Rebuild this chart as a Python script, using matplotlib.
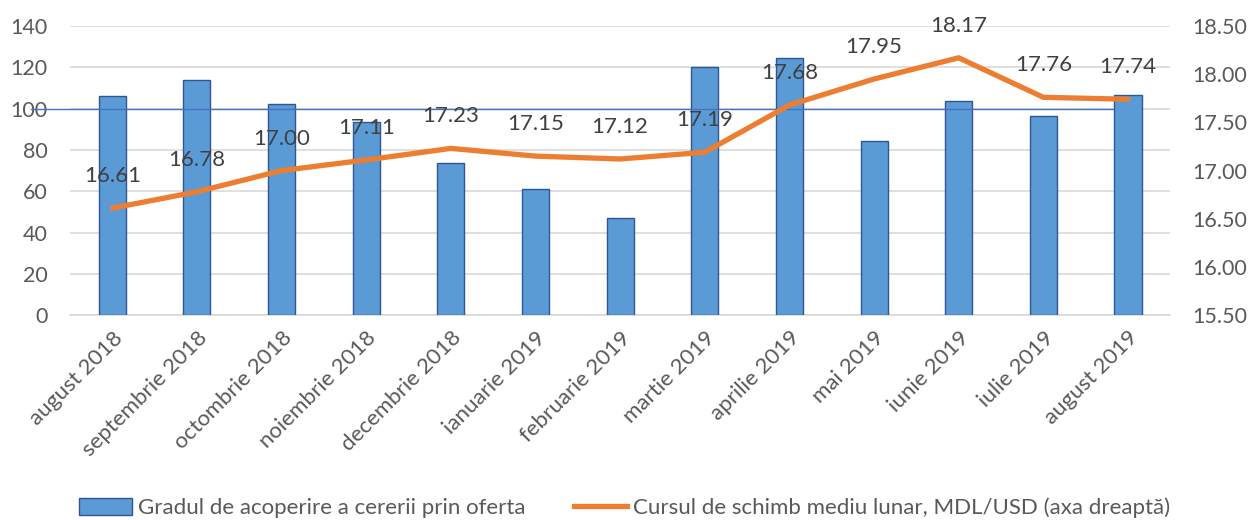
import numpy as np
import matplotlib.pyplot as plt
from matplotlib.patches import Patch
from matplotlib.lines import Line2D

plt.rcParams['font.family'] = ['Lato', 'DejaVu Sans']

months = ['august 2018', 'septembrie 2018', 'octombrie 2018', 'noiembrie 2018',
          'decembrie 2018', 'ianuarie 2019', 'februarie 2019', 'martie 2019',
          'aprilie 2019', 'mai 2019', 'iunie 2019', 'iulie 2019', 'august 2019']
coverage = [106, 114, 102, 93.5, 73.6, 61, 47, 120, 124.5, 84.4, 103.8, 96.3, 106.6]
rate = [16.61, 16.78, 17.00, 17.11, 17.23, 17.15, 17.12, 17.19, 17.68, 17.95, 18.17, 17.76, 17.74]

bar_name = 'Gradul de acoperire a cererii prin oferta'
line_name = 'Cursul de schimb mediu lunar, MDL/USD (axa dreaptă)'

blue = '#5B9BD5'
edge = '#2F5597'
orange = '#ED7D31'
grey_txt = '#595959'

fig = plt.figure(figsize=(12.49, 5.2), dpi=100)
ax = fig.add_axes([0.056, 0.394, 0.881, 0.556])
x = np.arange(len(months))

ax.bar(x, coverage, width=0.32, color=blue, edgecolor=edge, linewidth=1, zorder=3)
ax.set_xlim(-0.5, len(months) - 0.5)
ax.set_ylim(0, 140)
ax.set_yticks(np.arange(0, 141, 20))
ax.yaxis.grid(True, color='#D9D9D9', linewidth=1.2, zorder=0)
ax.set_axisbelow(True)
ax.axhline(100, xmin=-0.035, xmax=0.948, color='#4472C4', linewidth=1, clip_on=False, zorder=4)
for s in ['top', 'right', 'left']:
    ax.spines[s].set_visible(False)
ax.spines['bottom'].set_color('#D9D9D9')
ax.spines['bottom'].set_linewidth(1.2)
ax.tick_params(axis='y', length=0, labelsize=15.5, colors=grey_txt, pad=16)
ax.tick_params(axis='x', length=0, labelsize=16, colors=grey_txt, pad=9)
ax.set_xticks(x)
ax.set_xticklabels(months, rotation=45, ha='right', rotation_mode='anchor')

ax2 = ax.twinx()
ax2.plot(x, rate, color=orange, linewidth=3.8, solid_capstyle='round', zorder=5)
ax2.set_ylim(15.5, 18.5)
ax2.set_yticks(np.arange(15.5, 18.51, 0.5))
ax2.set_yticklabels(['%.2f' % v for v in np.arange(15.5, 18.51, 0.5)])
for s in ['top', 'right', 'left', 'bottom']:
    ax2.spines[s].set_visible(False)
ax2.tick_params(axis='y', length=0, labelsize=15.5, colors=grey_txt, pad=16)
for xi, v in zip(x, rate):
    ax2.annotate('%.2f' % v, (xi, v), xytext=(0, 23), textcoords='offset points',
                 ha='center', va='center', fontsize=16, color='#404040')

handles = [Patch(facecolor=blue, edgecolor=edge, linewidth=1),
           Line2D([0], [0], color=orange, linewidth=3.8)]
fig.legend(handles, [bar_name, line_name], loc='center', bbox_to_anchor=(0.5, 0.023),
           ncol=2, frameon=False, fontsize=16, labelcolor=grey_txt,
           handlelength=2.4, handleheight=0.8, handletextpad=0.25, columnspacing=2.2)

fig.savefig('out.png', dpi=100)
